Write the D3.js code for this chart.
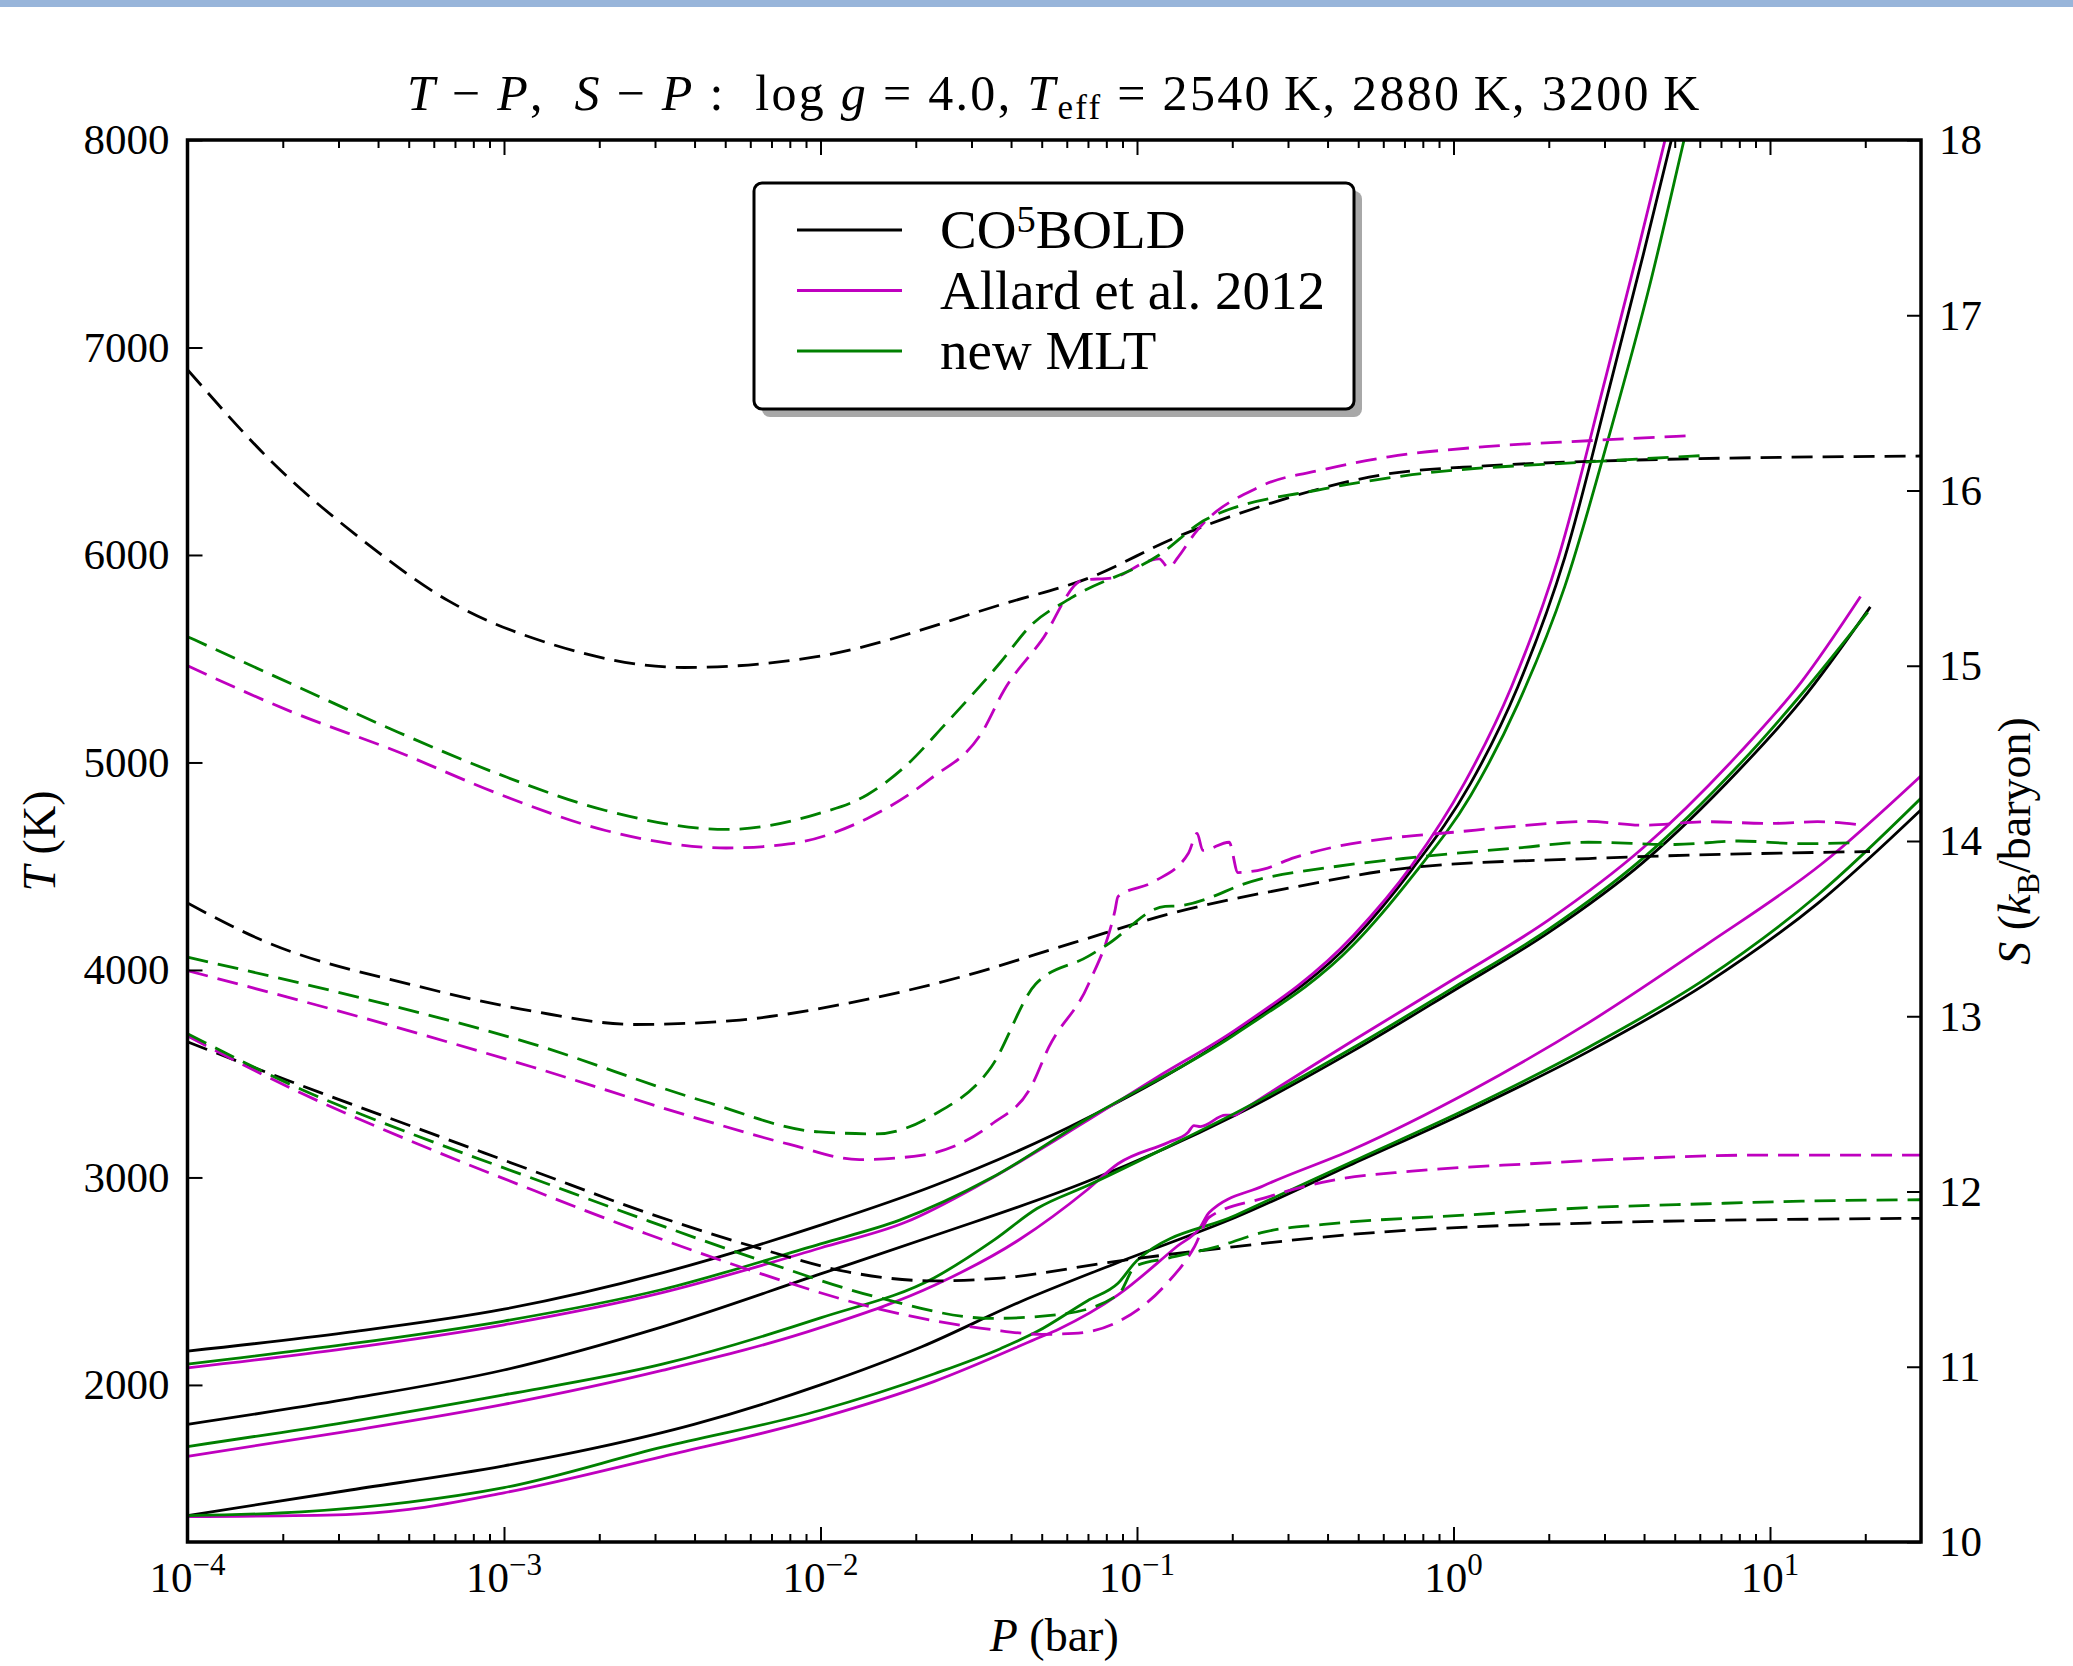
<!DOCTYPE html>
<html>
<head>
<meta charset="utf-8">
<script src="https://cdn.jsdelivr.net/npm/d3@7"></script>
<style>
  html, body { margin: 0; padding: 0; background: #ffffff; }
  svg { display: block; }
  svg text { font-family: 'Liberation Serif', 'DejaVu Serif', serif; }
</style>
</head>
<body>
<svg id="chart" width="2073" height="1666"></svg>
<script>
// ---- axis ranges and ticks ----
const P_RANGE = [1e-4, 30];          // bar
const T_RANGE = [1243, 8000];        // K
const S_RANGE = [10, 18];            // k_B / baryon
const T_TICKS = [2000, 3000, 4000, 5000, 6000, 7000, 8000];
const S_TICKS = [10, 11, 12, 13, 14, 15, 16, 17, 18];
const P_DECADES = [-4, -3, -2, -1, 0, 1];
const TEFFS = [2540, 2880, 3200];
const MODEL_NAMES = ["CO^5BOLD", "Allard et al. 2012", "new MLT"];
const MODEL_COLORS = ["#000000", "#bf00bf", "#008000"];

// ---- temperature profiles: [log10 P (bar), T (K)] ----
const tp_co5bold_3200 = [[-4,2163],[-3.5,2252],[-3,2365],[-2.5,2540],[-2,2770],[-1.64,2961],[-1.16,3284],[-0.69,3699],[-0.317,4145],[-0.131,4485],[0.054,4899],[0.203,5364],[0.352,5990],[0.5,6850],[0.6,7450],[0.69,8010],[0.75,8400]];
const tp_allard_3200  = [[-4,2082],[-3.5,2175],[-3,2290],[-2.5,2445],[-2,2660],[-1.73,2785],[-1.48,2979],[-1.156,3275],[-0.93,3489],[-0.69,3710],[-0.317,4165],[-0.131,4505],[0.034,4899],[0.183,5364],[0.332,5990],[0.48,6850],[0.58,7450],[0.67,8010],[0.73,8400]];
const tp_mlt_3200     = [[-4,2100],[-3.5,2195],[-3,2308],[-2.5,2460],[-2,2680],[-1.75,2794],[-1.46,2998],[-1.156,3284],[-0.69,3690],[-0.317,4120],[-0.131,4450],[0.054,4840],[0.203,5280],[0.352,5850],[0.5,6620],[0.62,7300],[0.73,8010],[0.79,8400]];

const tp_co5bold_2880 = [[-4,1810],[-3.5,1930],[-3,2072],[-2.5,2280],[-2,2535],[-1.64,2720],[-1.16,2979],[-0.69,3300],[-0.317,3610],[0,3900],[0.3,4180],[0.6,4520],[0.9,4960],[1.1,5300],[1.317,5750]];
const tp_allard_2880  = [[-4,1656],[-3.5,1775],[-3,1906],[-2.5,2070],[-2,2276],[-1.64,2480],[-1.37,2702],[-1.156,2942],[-1.06,3066],[-0.9,3170],[-0.84,3215],[-0.82,3250],[-0.8,3245],[-0.72,3300],[-0.69,3300],[-0.67,3320],[-0.317,3660],[0,3955],[0.3,4240],[0.6,4590],[0.9,5040],[1.1,5390],[1.286,5800]];
const tp_mlt_2880     = [[-4,1703],[-3.5,1820],[-3,1952],[-2.5,2100],[-2,2323],[-1.64,2517],[-1.45,2700],[-1.316,2850],[-1.156,2961],[-0.9,3150],[-0.69,3310],[-0.317,3625],[0,3915],[0.3,4195],[0.6,4540],[0.9,4985],[1.1,5330],[1.309,5725]];

const tp_co5bold_2540 = [[-4,1370],[-3.5,1490],[-3,1610],[-2.7,1700],[-2.4,1810],[-2,2000],[-1.68,2184],[-1.37,2400],[-1.06,2590],[-0.688,2808],[-0.317,3066],[0.054,3324],[0.43,3610],[0.797,3933],[1.15,4320],[1.48,4776]];
const tp_allard_2540  = [[-4,1365],[-3.5,1375],[-3.3,1400],[-3,1480],[-2.5,1655],[-2,1841],[-1.64,2017],[-1.32,2221],[-1.246,2270],[-1.06,2434],[-0.874,2667],[-0.8,2760],[-0.772,2831],[-0.6,2960],[-0.317,3136],[0.054,3417],[0.426,3745],[0.797,4120],[1.169,4518],[1.48,4940]];
const tp_mlt_2540     = [[-4,1370],[-3.64,1388],[-3.3,1435],[-3,1505],[-2.5,1700],[-2,1878],[-1.64,2054],[-1.43,2176],[-1.316,2257],[-1.156,2406],[-1.06,2490],[-1,2600],[-0.688,2818],[-0.317,3078],[0.054,3338],[0.43,3630],[0.797,3958],[1.15,4360],[1.48,4832]];

// ---- entropy profiles: [log10 P (bar), S (k_B/baryon)] ----
const sp_co5bold_3200 = [[-4,16.69],[-3.72,16.14],[-3.456,15.73],[-3.175,15.37],[-2.844,15.12],[-2.431,14.99],[-2.017,15.05],[-1.409,15.36],[-1.153,15.5],[-0.874,15.735],[-0.596,15.917],[-0.224,16.09],[0.1,16.14],[0.426,16.166],[1.48,16.197]];
const sp_allard_3200  = [[-4,15.0],[-3.671,14.737],[-3.34,14.512],[-3.01,14.264],[-2.679,14.06],[-2.298,13.96],[-2.1,13.983],[-1.852,14.129],[-1.653,14.354],[-1.488,14.625],[-1.42,14.86],[-1.302,15.143],[-1.17,15.49],[-1.08,15.5],[-0.96,15.6],[-0.93,15.61],[-0.9,15.56],[-0.87,15.62],[-0.818,15.754],[-0.614,16.02],[-0.41,16.12],[-0.205,16.192],[0.1,16.25],[0.426,16.284],[0.76,16.314]];
const sp_mlt_3200     = [[-4,15.166],[-3.671,14.896],[-3.34,14.625],[-3.01,14.377],[-2.679,14.174],[-2.298,14.066],[-2.017,14.151],[-1.852,14.264],[-1.736,14.42],[-1.604,14.67],[-1.431,15.02],[-1.338,15.225],[-1.208,15.387],[-0.93,15.632],[-0.781,15.836],[-0.41,16.009],[-0.131,16.09],[0.426,16.163],[0.797,16.2]];

const sp_co5bold_2880 = [[-4,13.646],[-3.766,13.435],[-3.276,13.173],[-2.913,13.03],[-2.586,12.953],[-2.277,12.975],[-1.914,13.074],[-1.551,13.227],[-1.2,13.42],[-0.875,13.595],[-0.503,13.737],[-0.132,13.849],[0.426,13.9],[1.316,13.94]];
const sp_allard_2880  = [[-4,13.26],[-3.457,12.997],[-2.913,12.712],[-2.368,12.406],[-2.1,12.27],[-1.877,12.182],[-1.677,12.208],[-1.46,12.383],[-1.333,12.603],[-1.279,12.822],[-1.153,13.184],[-1.07,13.6],[-1.06,13.683],[-0.949,13.766],[-0.837,13.932],[-0.81,14.043],[-0.792,13.946],[-0.709,13.993],[-0.681,13.82],[-0.6,13.84],[-0.503,13.905],[-0.391,13.96],[-0.206,14.015],[0,14.05],[0.203,14.085],[0.426,14.112],[0.6,14.09],[0.8,14.11],[1.0,14.1],[1.15,14.11],[1.28,14.093]];
const sp_mlt_2880     = [[-4,13.337],[-3.457,13.107],[-2.913,12.844],[-2.368,12.515],[-2.005,12.34],[-1.823,12.329],[-1.642,12.438],[-1.46,12.712],[-1.32,13.184],[-1.156,13.34],[-1.097,13.405],[-0.911,13.627],[-0.87,13.63],[-0.617,13.78],[-0.394,13.849],[-0.133,13.905],[0.2,13.96],[0.426,13.993],[0.7,13.98],[0.9,14.0],[1.1,13.985],[1.28,13.99]];

const sp_co5bold_2540 = [[-4,12.854],[-3.638,12.603],[-3.276,12.362],[-2.913,12.121],[-2.55,11.88],[-2.187,11.672],[-1.914,11.541],[-1.642,11.49],[-1.431,11.506],[-1.06,11.603],[-0.688,11.686],[-0.317,11.756],[0.055,11.798],[0.426,11.82],[1.48,11.847]];
const sp_allard_2540  = [[-4,12.887],[-3.638,12.559],[-3.276,12.274],[-2.913,12.011],[-2.55,11.759],[-2.187,11.53],[-1.823,11.333],[-1.46,11.212],[-1.3,11.185],[-1.2,11.19],[-1.06,11.257],[-0.911,11.465],[-0.818,11.686],[-0.772,11.853],[-0.596,11.964],[-0.391,12.061],[-0.131,12.116],[0.24,12.158],[0.61,12.191],[0.98,12.208],[1.48,12.208]];
const sp_mlt_2540     = [[-4,12.9],[-3.638,12.581],[-3.276,12.318],[-2.913,12.077],[-2.55,11.836],[-2.187,11.606],[-1.823,11.398],[-1.46,11.276],[-1.246,11.298],[-1.06,11.41],[-1.004,11.575],[-0.9,11.62],[-0.746,11.686],[-0.596,11.77],[-0.41,11.812],[0.054,11.867],[0.426,11.908],[0.8,11.93],[1.1,11.945],[1.48,11.953]];

// model index: 0 = CO5BOLD, 1 = Allard et al. 2012, 2 = new MLT
const profiles = [
  { teff: 2540, model: 0, tp: tp_co5bold_2540, sp: sp_co5bold_2540 },
  { teff: 2540, model: 1, tp: tp_allard_2540,  sp: sp_allard_2540 },
  { teff: 2540, model: 2, tp: tp_mlt_2540,     sp: sp_mlt_2540 },
  { teff: 2880, model: 0, tp: tp_co5bold_2880, sp: sp_co5bold_2880 },
  { teff: 2880, model: 1, tp: tp_allard_2880,  sp: sp_allard_2880 },
  { teff: 2880, model: 2, tp: tp_mlt_2880,     sp: sp_mlt_2880 },
  { teff: 3200, model: 0, tp: tp_co5bold_3200, sp: sp_co5bold_3200 },
  { teff: 3200, model: 1, tp: tp_allard_3200,  sp: sp_allard_3200 },
  { teff: 3200, model: 2, tp: tp_mlt_3200,     sp: sp_mlt_3200 }
];

// ---- layout ----
const W = 2073, H = 1666;
const M = { left: 187.5, right: 1921, top: 140, bottom: 1542 };
const FONT = "'Liberation Serif', 'DejaVu Serif', serif";
const TICK_FS = 43, LABEL_FS = 46, TITLE_FS = 50, LEGEND_FS = 55;
const LW = 2.8;

const svg = d3.select("#chart");
svg.append("rect").attr("x", 0).attr("y", 0).attr("width", W).attr("height", H).attr("fill", "#ffffff");
svg.append("rect").attr("x", 0).attr("y", 0).attr("width", W).attr("height", 7).attr("fill", "#98b5da");

const x = d3.scaleLog().domain(P_RANGE).range([M.left, M.right]);
const yT = d3.scaleLinear().domain(T_RANGE).range([M.bottom, M.top]);
const yS = d3.scaleLinear().domain(S_RANGE).range([M.bottom, M.top]);

svg.append("defs").append("clipPath").attr("id", "plotClip")
  .append("rect")
  .attr("x", M.left).attr("y", M.top)
  .attr("width", M.right - M.left).attr("height", M.bottom - M.top);

const lineT = d3.line()
  .x(d => x(Math.pow(10, d[0])))
  .y(d => yT(d[1]))
  .curve(d3.curveMonotoneX);
const lineS = d3.line()
  .x(d => x(Math.pow(10, d[0])))
  .y(d => yS(d[1]))
  .curve(d3.curveMonotoneX);

const plot = svg.append("g").attr("clip-path", "url(#plotClip)");

// solid: temperature, left axis
plot.append("g").selectAll("path")
  .data(profiles)
  .join("path")
  .attr("d", p => lineT(p.tp))
  .attr("fill", "none")
  .attr("stroke", p => MODEL_COLORS[p.model])
  .attr("stroke-width", LW)
  .attr("stroke-linejoin", "round");

// dashed: entropy, right axis
plot.append("g").selectAll("path")
  .data(profiles)
  .join("path")
  .attr("d", p => lineS(p.sp))
  .attr("fill", "none")
  .attr("stroke", p => MODEL_COLORS[p.model])
  .attr("stroke-width", LW)
  .attr("stroke-dasharray", "21 10");

// ---- axes ----
const xMajor = P_DECADES.map(e => Math.pow(10, e));
const xMinor = [];
P_DECADES.forEach(e => {
  for (let k = 2; k <= 9; k++) {
    const v = k * Math.pow(10, e);
    if (v < P_RANGE[1]) xMinor.push(v);
  }
});

function tidy(g) {
  g.select(".domain").remove();
  g.selectAll(".tick line").attr("stroke", "#000").attr("stroke-width", 2);
  g.attr("font-family", FONT).attr("font-size", TICK_FS);
  g.selectAll(".tick text").attr("fill", "#000").attr("font-family", FONT).attr("font-size", TICK_FS);
}

svg.append("g").attr("transform", `translate(0,${M.bottom})`)
  .call(d3.axisBottom(x).tickValues(xMajor).tickSize(-15).tickFormat("")).call(tidy);
svg.append("g").attr("transform", `translate(0,${M.bottom})`)
  .call(d3.axisBottom(x).tickValues(xMinor).tickSize(-8).tickFormat("")).call(tidy);
svg.append("g").attr("transform", `translate(0,${M.top})`)
  .call(d3.axisTop(x).tickValues(xMajor).tickSize(-15).tickFormat("")).call(tidy);
svg.append("g").attr("transform", `translate(0,${M.top})`)
  .call(d3.axisTop(x).tickValues(xMinor).tickSize(-8).tickFormat("")).call(tidy);

svg.append("g").attr("transform", `translate(${M.left},0)`)
  .call(d3.axisLeft(yT).tickValues(T_TICKS).tickSize(-15).tickPadding(18).tickFormat(d3.format("d")))
  .call(tidy);
svg.append("g").attr("transform", `translate(${M.right},0)`)
  .call(d3.axisRight(yS).tickValues(S_TICKS).tickSize(-14).tickPadding(18).tickFormat(d3.format("d")))
  .call(tidy);

// decade labels 10^n
const xl = svg.append("g").attr("font-family", FONT).attr("font-size", TICK_FS);
xl.selectAll("text")
  .data(P_DECADES)
  .join("text")
  .attr("x", e => x(Math.pow(10, e)))
  .attr("y", 1592)
  .attr("text-anchor", "middle")
  .attr("fill", "#000")
  .each(function (e) {
    const t = d3.select(this);
    t.append("tspan").text("10");
    t.append("tspan").attr("dy", -17).attr("font-size", 31)
      .text(e < 0 ? "\u2212" + Math.abs(e) : String(e));
  });

// frame
svg.append("rect")
  .attr("x", M.left).attr("y", M.top)
  .attr("width", M.right - M.left).attr("height", M.bottom - M.top)
  .attr("fill", "none").attr("stroke", "#000").attr("stroke-width", 3.5);

// ---- text helpers ----
function richText(parent, parts, attrs) {
  const t = parent.append("text").style("white-space", "pre");
  Object.entries(attrs).forEach(([k, v]) => t.attr(k, v));
  let shift = 0;
  parts.forEach(p => {
    const s = t.append("tspan").text(p.t);
    if (p.i) s.attr("font-style", "italic");
    const want = p.sub ? 9 : (p.sup ? -16 : 0);
    if (want !== shift) { s.attr("dy", want - shift); shift = want; }
    if (p.sub || p.sup) s.attr("font-size", "0.7em");
  });
  return t;
}

// title
richText(svg, [
  { t: "T", i: true }, { t: " \u2212 " }, { t: "P", i: true }, { t: ",  " },
  { t: "S", i: true }, { t: " \u2212 " }, { t: "P", i: true }, { t: " :  log " },
  { t: "g", i: true }, { t: " = 4.0, " },
  { t: "T", i: true }, { t: "eff", sub: true },
  { t: " = " + TEFFS.map(v => v + "\u2009K").join(", ") }
], { x: (M.left + M.right) / 2, y: 110, "text-anchor": "middle",
     "font-family": FONT, "font-size": TITLE_FS, "letter-spacing": 2.3, fill: "#000" });

// axis titles
richText(svg, [{ t: "P", i: true }, { t: " (bar)" }],
  { x: (M.left + M.right) / 2, y: 1651, "text-anchor": "middle",
    "font-family": FONT, "font-size": LABEL_FS, fill: "#000" });

richText(svg, [{ t: "T", i: true }, { t: " (K)" }],
  { transform: `translate(55,${(M.top + M.bottom) / 2}) rotate(-90)`, "text-anchor": "middle",
    "font-family": FONT, "font-size": LABEL_FS, fill: "#000" });

richText(svg, [{ t: "S", i: true }, { t: " (" }, { t: "k", i: true }, { t: "B", sub: true }, { t: "/baryon)" }],
  { transform: `translate(2030,${(M.top + M.bottom) / 2}) rotate(-90)`, "text-anchor": "middle",
    "font-family": FONT, "font-size": LABEL_FS, fill: "#000" });

// ---- legend ----
const LEG = { x: 754, y: 183, w: 600, h: 226 };
const lg = svg.append("g");
lg.append("rect")
  .attr("x", LEG.x + 8).attr("y", LEG.y + 8).attr("width", LEG.w).attr("height", LEG.h)
  .attr("rx", 8).attr("fill", "#a8a8a8");
lg.append("rect")
  .attr("x", LEG.x).attr("y", LEG.y).attr("width", LEG.w).attr("height", LEG.h)
  .attr("rx", 8).attr("fill", "#ffffff").attr("stroke", "#000").attr("stroke-width", 3);

const rowY = i => 230 + i * 60.5;
MODEL_NAMES.forEach((name, i) => {
  lg.append("line")
    .attr("x1", 797).attr("x2", 902).attr("y1", rowY(i)).attr("y2", rowY(i))
    .attr("stroke", MODEL_COLORS[i]).attr("stroke-width", LW);
  const m = name.match(/^(.*)\^(\d)(.*)$/);
  const parts = m ? [{ t: m[1] }, { t: m[2], sup: true }, { t: m[3] }] : [{ t: name }];
  richText(lg, parts, { x: 940, y: rowY(i) + 18, "font-family": FONT,
    "font-size": LEGEND_FS, fill: "#000" });
});
</script>
</body>
</html>
